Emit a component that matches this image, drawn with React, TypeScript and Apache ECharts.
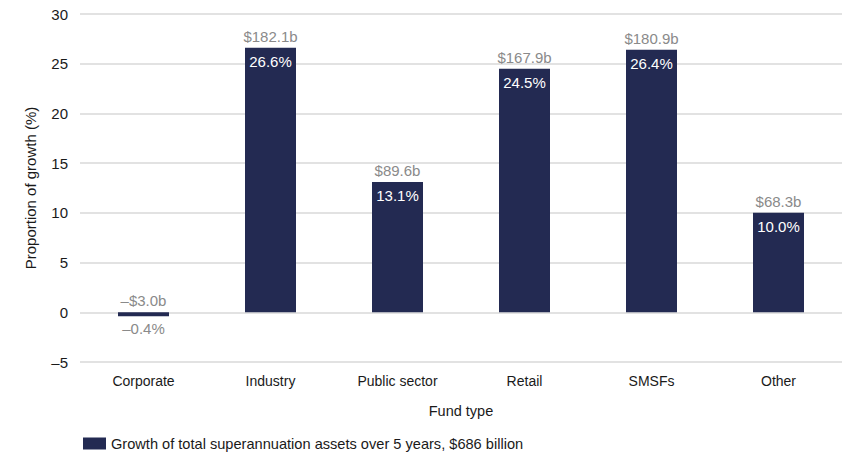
import React, { useEffect, useRef } from "react";
import * as echarts from "echarts";

const categories = ["Corporate", "Industry", "Public sector", "Retail", "SMSFs", "Other"];
const growthPct = [-0.4, 26.6, 13.1, 24.5, 26.4, 10.0];
const growthBn = [-3.0, 182.1, 89.6, 167.9, 180.9, 68.3];
const yTicks = { min: -5, max: 30, interval: 5 };
const seriesName = "Growth of total superannuation assets over 5 years, $686 billion";

const FONT = "Liberation Sans, Arial, sans-serif";
const NAVY = "#232a52";
const GRAY = "#8a8a8a";

const fmtSigned = (v: number, pre: string, suf: string) =>
  (v < 0 ? "\u2013" : "") + pre + Math.abs(v).toFixed(1) + suf;

export default function App() {
  const ref = useRef<HTMLDivElement>(null);
  useEffect(() => {
    document.body.style.margin = "0";
    const chart = echarts.init(ref.current!, null, { renderer: "svg" });
    chart.setOption({
      animation: false,
      textStyle: { fontFamily: FONT },
      grid: { left: 80, right: 22, top: 14, bottom: 102 },
      legend: {
        data: [seriesName],
        left: 78,
        top: 431,
        itemWidth: 23,
        itemHeight: 12,
        itemGap: 8,
        icon: "rect",
        textStyle: { fontSize: 14.6, color: "#1a1a1a", fontFamily: FONT },
      },
      xAxis: {
        type: "category",
        data: categories,
        name: "Fund type",
        nameLocation: "middle",
        nameGap: 41,
        nameTextStyle: { fontSize: 14.5, color: "#1a1a1a" },
        axisLine: { show: false },
        axisTick: { show: false },
        axisLabel: { fontSize: 14, color: "#1a1a1a", margin: 12 },
      },
      yAxis: {
        type: "value",
        min: yTicks.min,
        max: yTicks.max,
        interval: yTicks.interval,
        name: "Proportion of growth (%)",
        nameLocation: "middle",
        nameGap: 42,
        nameTextStyle: { fontSize: 15, color: "#1a1a1a" },
        axisLine: { show: false },
        axisTick: { show: false },
        axisLabel: {
          fontSize: 15,
          color: "#1a1a1a",
          margin: 12,
          formatter: (v: number) => (v < 0 ? "\u2013" + Math.abs(v) : String(v)),
        },
        splitLine: { lineStyle: { color: "#d9d9d9", width: 1.5 } },
      },
      series: [
        {
          name: seriesName,
          type: "bar",
          barWidth: 51,
          itemStyle: { color: NAVY },
          data: growthPct.map((v) =>
            v < 0
              ? {
                  value: v,
                  label: { position: "bottom", color: GRAY, distance: 5 },
                }
              : v
          ),
          label: {
            show: true,
            position: "insideTop",
            distance: 6,
            color: "#ffffff",
            fontSize: 15,
            formatter: (p: any) => fmtSigned(p.value, "", "%"),
          },
          z: 3,
        },
        {
          name: "bn",
          type: "bar",
          barWidth: 51,
          barGap: "-100%",
          itemStyle: { color: "rgba(0,0,0,0)" },
          data: growthPct,
          label: {
            show: true,
            position: "top",
            distance: 4,
            color: GRAY,
            fontSize: 15,
            formatter: (p: any) => fmtSigned(growthBn[p.dataIndex], "$", "b"),
          },
          tooltip: { show: false },
          z: 2,
        },
      ],
    });
    return () => chart.dispose();
  }, []);
  return <div ref={ref} style={{ width: 864, height: 464 }} />;
}
